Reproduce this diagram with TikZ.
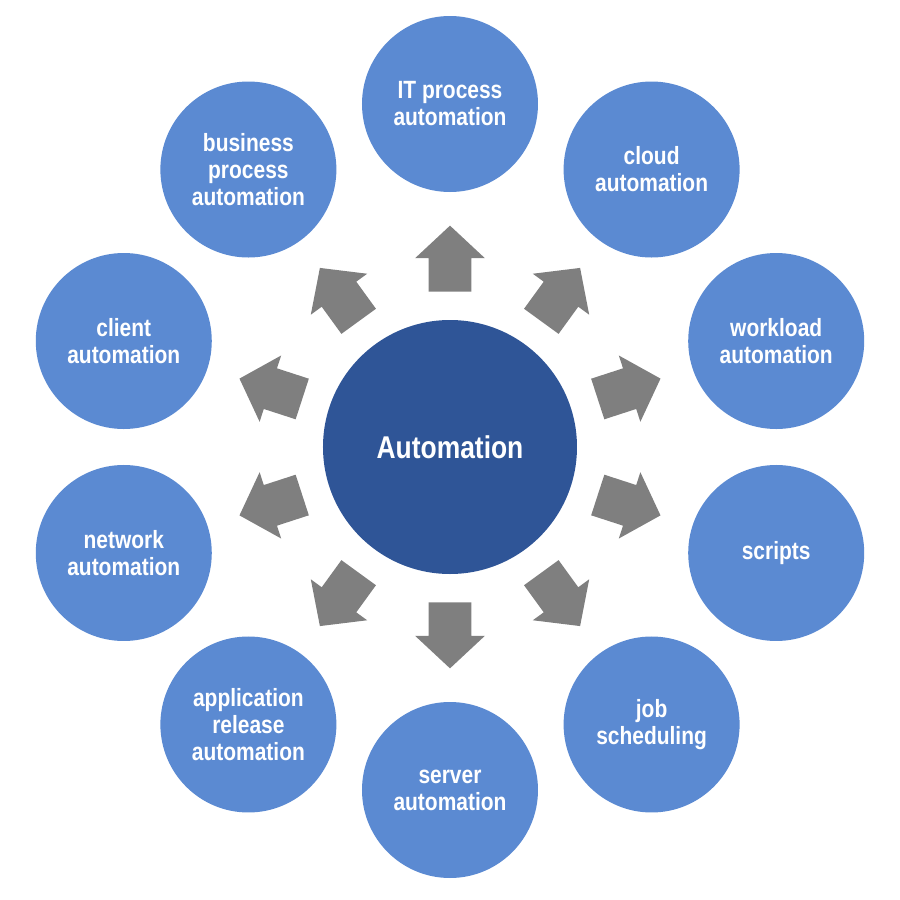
\documentclass[tikz,border=0pt]{standalone}
\usepackage{fontspec}
\setmainfont{Liberation Sans}[FakeStretch=0.84]
\usepackage{tikz}
\usetikzlibrary{shapes.arrows}
\usepackage{xcolor}
\definecolor{topicblue}{RGB}{91,138,210}
\definecolor{corefill}{RGB}{47,85,151}
\definecolor{pointergray}{RGB}{127,127,127}

\tikzset{
  topic/.style={circle,
    fill=topicblue,
    minimum size=3.52cm,
    inner sep=0pt,
    text=white,
    align=center,
    font=\fontsize{14.2}{15.4}\selectfont\bfseries},
  pointer/.style={single arrow,
    fill=pointergray,
    inner xsep=0pt,
    inner ysep=0.42cm,
    minimum height=1.32cm,
    single arrow head extend=0.27cm,
    single arrow tip angle=94,
    anchor=tail}
}

\begin{document}
\begin{tikzpicture}
  \useasboundingbox (-9,-9.06) rectangle (9,8.94);

  % centre
  \node[circle,
    fill=corefill,
    minimum size=5.08cm,
    inner sep=0pt,
    text=white,
    font=\fontsize{17.9}{21}\selectfont\bfseries] (auto) at (0,0) {Automation};

  % outer topics
  \node[topic] (itproc)   at (90:6.86)  {IT process\\automation};
  \node[topic] (cloud)    at (54:6.86)  {cloud\\automation};
  \node[topic] (workload) at (18:6.86)  {workload\\automation};
  \node[topic] (scripts)  at (-18:6.86) {scripts};
  \node[topic] (jobs)     at (-54:6.86) {job\\scheduling};
  \node[topic] (server)   at (-90:6.86) {server\\automation};
  \node[topic] (release)  at (234:6.86) {application\\release\\automation};
  \node[topic] (network)  at (198:6.86) {network\\automation};
  \node[topic] (client)   at (162:6.86) {client\\automation};
  \node[topic] (business) at (126:6.86) {business\\process\\automation};

  % block arrows
  \foreach \name/\a in {itproc/90, cloud/54, workload/18, scripts/-18, jobs/-54,
                        server/-90, release/234, network/198, client/162, business/126}
    \node[pointer, rotate=\a] (to-\name) at (\a:3.1) {};
\end{tikzpicture}
\end{document}
